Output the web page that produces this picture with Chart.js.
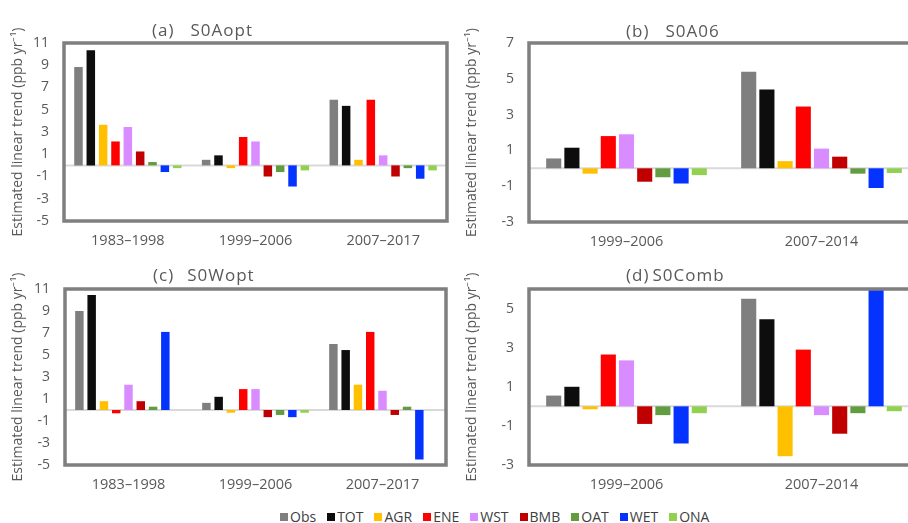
<!DOCTYPE html>
<html>
<head>
<meta charset="utf-8">
<script src="https://cdn.jsdelivr.net/npm/chart.js@4.4.1/dist/chart.umd.min.js"></script>
<style>
  body { margin: 0; width: 908px; height: 523px; overflow: hidden; background: #fff; position: relative; font-family: "Open Sans", sans-serif; }
  canvas { position: absolute; }
  .ttl { position: absolute; font-size: 17px; color: #595959; letter-spacing: 1px; white-space: nowrap; line-height: 22px; }
  #legend { position: absolute; left: 280px; top: 507px; display: flex; align-items: center; font-size: 14px; color: #404040; line-height: 20px; white-space: nowrap; }
  #legend .item { display: flex; align-items: center; margin-right: 11px; }
  #legend .sw { width: 8px; height: 8px; margin-right: 2px; }
</style>
</head>
<body>

<canvas id="chartA" width="454" height="250" style="left:0;top:0"></canvas>
<canvas id="chartB" width="470" height="250" style="left:454px;top:0"></canvas>
<canvas id="chartC" width="454" height="250" style="left:0;top:250px"></canvas>
<canvas id="chartD" width="470" height="250" style="left:454px;top:250px"></canvas>

<div class="ttl" style="left:152px;top:19px"><span style="margin-right:16px">(a)</span>S0Aopt</div>
<div class="ttl" style="left:626px;top:20px"><span style="margin-right:16px">(b)</span>S0A06</div>
<div class="ttl" style="left:153px;top:264px"><span style="margin-right:13px">(c)</span>S0Wopt</div>
<div class="ttl" style="left:626px;top:264px"><span style="margin-right:3px">(d)</span>S0Comb</div>

<div id="legend"></div>

<script>
// emission sectors, one bar per sector in every period
const sectors = ['Obs', 'TOT', 'AGR', 'ENE', 'WST', 'BMB', 'OAT', 'WET', 'ONA'];
const sectorColours = ['#7f7f7f', '#0d0d0d', '#ffc000', '#ff0000', '#d98cff', '#c00000', '#629c40', '#0433ff', '#92d050'];

const periodsLong = ['1983–1998', '1999–2006', '2007–2017'];
const periodsShort = ['1999–2006', '2007–2014'];

const ticksWide = [-5, -3, -1, 1, 3, 5, 7, 9, 11];
const ticksB = [-3, -1, 1, 3, 5, 7];
const ticksD = [-3, -1, 1, 3, 5];

// trends in ppb/yr, rows follow sectors, columns follow periods
const s0Aopt = [
  [8.85, 0.5, 5.9],
  [10.35, 0.9, 5.35],
  [3.65, -0.25, 0.5],
  [2.15, 2.55, 5.9],
  [3.45, 2.15, 0.9],
  [1.25, -1.0, -1.0],
  [0.3, -0.6, -0.25],
  [-0.6, -1.9, -1.2],
  [-0.25, -0.45, -0.45]
];
const s0A06 = [
  [0.55, 5.4],
  [1.15, 4.4],
  [-0.3, 0.4],
  [1.8, 3.45],
  [1.9, 1.1],
  [-0.75, 0.65],
  [-0.5, -0.3],
  [-0.85, -1.1],
  [-0.38, -0.26]
];
const s0Wopt = [
  [9.0, 0.65, 6.0],
  [10.45, 1.2, 5.45],
  [0.8, -0.25, 2.3],
  [-0.3, 1.9, 7.1],
  [2.3, 1.9, 1.75],
  [0.8, -0.65, -0.45],
  [0.3, -0.45, 0.3],
  [7.1, -0.65, -4.5],
  [0, -0.25, 0]
];
const s0Comb = [
  [0.55, 5.5],
  [1.0, 4.45],
  [-0.15, -2.55],
  [2.65, 2.9],
  [2.35, -0.45],
  [-0.9, -1.4],
  [-0.45, -0.35],
  [-1.9, 6.0],
  [-0.35, -0.25]
];

const yTitle = 'Estimated linear trend (ppb yr\u207B\u00B9)';
const textGrey = '#595959';

// zero line under the bars, heavy box round the plot area
const framePlugin = {
  id: 'frame',
  beforeDatasetsDraw(chart) {
    const {ctx, chartArea} = chart;
    const y0 = chart.scales.y.getPixelForValue(0);
    ctx.save();
    ctx.strokeStyle = '#d9d9d9';
    ctx.lineWidth = 2;
    ctx.beginPath();
    ctx.moveTo(chartArea.left, y0);
    ctx.lineTo(chartArea.right, y0);
    ctx.stroke();
    ctx.restore();
  },
  afterDatasetsDraw(chart) {
    const {ctx, chartArea} = chart;
    ctx.save();
    ctx.strokeStyle = '#7f7f7f';
    ctx.lineWidth = 3.5;
    ctx.strokeRect(chartArea.left, chartArea.top, chartArea.right - chartArea.left, chartArea.bottom - chartArea.top);
    ctx.restore();
  }
};

function makePanel(id, periods, rows, ticks, yMin, yMax, area, barPct, catPct) {
  const canvas = document.getElementById(id);
  const W = canvas.width, H = canvas.height;

  let datasets = [];
  sectors.forEach((name, i) => {
    datasets.push({
      label: name,
      data: rows[i],
      backgroundColor: sectorColours[i],
      borderWidth: 0,
      barPercentage: barPct,
      categoryPercentage: catPct
    });
  });

  return new Chart(canvas, {
    type: 'bar',
    data: { labels: periods, datasets: datasets },
    options: {
      responsive: false,
      animation: false,
      devicePixelRatio: 1,
      layout: { padding: { top: area.top, right: W - area.right, left: 0, bottom: 0 } },
      plugins: { legend: { display: false }, tooltip: { enabled: false } },
      scales: {
        x: {
          grid: { display: false, drawTicks: false },
          border: { display: false },
          ticks: { color: textGrey, font: { family: 'Open Sans', size: 14.5 }, padding: 11, maxRotation: 0 },
          afterFit: s => { s.height = H - area.bottom; }
        },
        y: {
          min: yMin,
          max: yMax,
          grid: { display: false, drawTicks: false },
          border: { display: false },
          afterBuildTicks: s => { s.ticks = ticks.map(v => ({ value: v })); },
          ticks: { color: textGrey, font: { family: 'Open Sans', size: 14 }, padding: 15, callback: v => String(v) },
          title: { display: true, text: yTitle, color: textGrey, font: { family: 'Open Sans', size: 14 }, padding: { top: 10, bottom: 0 } },
          afterFit: s => { s.width = area.left; }
        }
      }
    },
    plugins: [framePlugin]
  });
}

makePanel('chartA', periodsLong, s0Aopt, ticksWide, -5, 11, { left: 64, top: 43, right: 447, bottom: 221 }, 0.69, 0.87);
makePanel('chartB', periodsShort, s0A06, ticksB, -3, 7, { left: 75, top: 43, right: 465, bottom: 222 }, 0.83, 0.84);
makePanel('chartC', periodsLong, s0Wopt, ticksWide, -5, 11, { left: 65, top: 39, right: 446, bottom: 215 }, 0.69, 0.87);
makePanel('chartD', periodsShort, s0Comb, ticksD, -3, 6, { left: 75, top: 39, right: 465, bottom: 215 }, 0.83, 0.84);

// legend row under the panels
let legendHtml = '';
sectors.forEach((name, i) => {
  legendHtml += `<div class="item"><div class="sw" style="background:${sectorColours[i]}"></div>${name}</div>`;
});
document.getElementById('legend').innerHTML = legendHtml;
</script>
</body>
</html>
